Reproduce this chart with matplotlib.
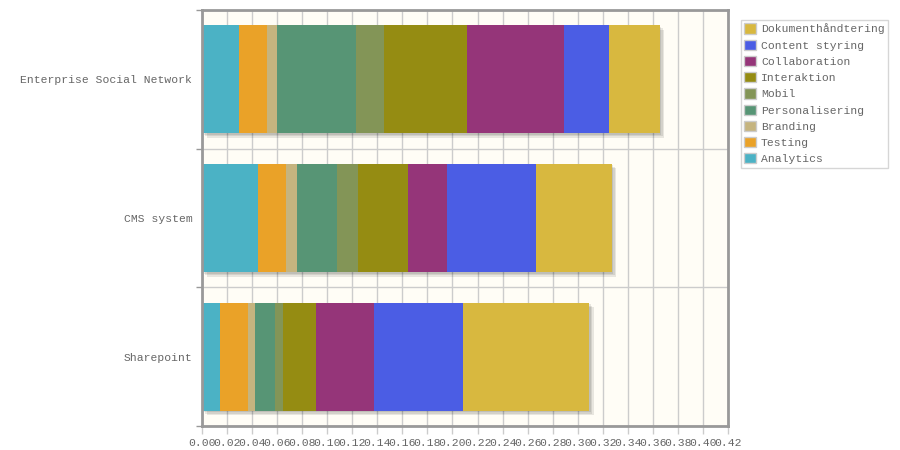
import matplotlib
matplotlib.use("Agg")
import matplotlib.pyplot as plt
from matplotlib.patches import Patch
from matplotlib.transforms import ScaledTranslation

categories = ["Sharepoint", "CMS system", "Enterprise Social Network"]
series_names = ["Analytics", "Testing", "Branding", "Personalisering", "Mobil",
                "Interaktion", "Collaboration", "Content styring", "Dokumenthåndtering"]
# values per series, in order [Sharepoint, CMS system, Enterprise Social Network]
analytics = [0.0146, 0.0447, 0.0295]
testing = [0.0224, 0.0224, 0.0224]
branding = [0.0056, 0.0090, 0.0077]
personalisering = [0.0160, 0.0319, 0.0631]
mobil = [0.0059, 0.0165, 0.0224]
interaktion = [0.0263, 0.0399, 0.0665]
collaboration = [0.0468, 0.0311, 0.0777]
content_styring = [0.0711, 0.0711, 0.0357]
dokumenthaandtering = [0.1004, 0.0607, 0.0405]
series_values = [analytics, testing, branding, personalisering, mobil,
                 interaktion, collaboration, content_styring, dokumenthaandtering]
colors = ["#4bb2c5", "#EAA228", "#c5b47f", "#579575", "#839557",
          "#958c12", "#953579", "#4b5de4", "#d8b83f"]
x_ticks = [i * 0.02 for i in range(22)]
x_tick_labels = ["%.2f" % v for v in x_ticks]

FONT = ["Liberation Mono", "DejaVu Sans Mono"]
TXT = "#666666"
fs = 8.2

fig = plt.figure(figsize=(9, 4.5), dpi=100)
fig.patch.set_facecolor("white")
ax = fig.add_axes([202 / 900, 24 / 450, 526 / 900, 416 / 450])
ax.set_facecolor("#fffdf6")

ypos = list(range(len(categories)))
h = 0.78
totals = [sum(s[i] for s in series_values) for i in range(len(categories))]

# shadow
for k in range(1, 4):
    off = ScaledTranslation(1.5 * k / 100, -1.5 * k / 100, fig.dpi_scale_trans)
    ax.barh(ypos, totals, height=h, color="black", alpha=0.09,
            transform=ax.transData + off, zorder=2, linewidth=0)

left = [0.0] * len(categories)
for name, vals, c in zip(series_names, series_values, colors):
    ax.barh(ypos, vals, left=left, height=h, color=c, zorder=3, linewidth=0,
            label=name)
    left = [l + v for l, v in zip(left, vals)]

ax.set_xlim(0, 0.42)
ax.set_ylim(-0.5, 2.5)
ax.set_xticks(x_ticks)
ax.set_xticklabels(x_tick_labels, fontfamily=FONT, fontsize=fs, color=TXT)
ax.set_yticks([-0.5, 0.5, 1.5, 2.5])
ax.set_yticklabels([])
ax.set_yticks(ypos, minor=True)
ax.set_yticklabels(categories, minor=True, fontfamily=FONT, fontsize=fs, color=TXT)
ax.tick_params(axis="y", which="minor", length=0, pad=7)
ax.tick_params(axis="y", which="major", length=4, color="#999999", width=1)
ax.tick_params(axis="x", length=6, color="#cccccc", width=1, pad=3)
ax.grid(True, which="major", color="#cccccc", linewidth=1, zorder=0)
ax.set_axisbelow(True)
for sp in ax.spines.values():
    sp.set_color("#999999")
    sp.set_linewidth(2)
    sp.set_zorder(5)

handles = [Patch(facecolor=c, edgecolor="#cccccc", linewidth=1, label=n)
           for n, c in zip(series_names, colors)][::-1]
leg = fig.legend(handles=handles, loc="upper left",
                 bbox_to_anchor=(741 / 900, 1 - 20 / 450),
                 prop={"family": FONT, "size": fs},
                 frameon=True, fancybox=False, borderpad=0.3,
                 labelspacing=0.46, handlelength=1.0, handleheight=1.0,
                 handletextpad=0.45, borderaxespad=0)
leg.get_frame().set_edgecolor("#cccccc")
leg.get_frame().set_linewidth(1)
for t in leg.get_texts():
    t.set_color(TXT)

fig.savefig("out.png", dpi=100)
